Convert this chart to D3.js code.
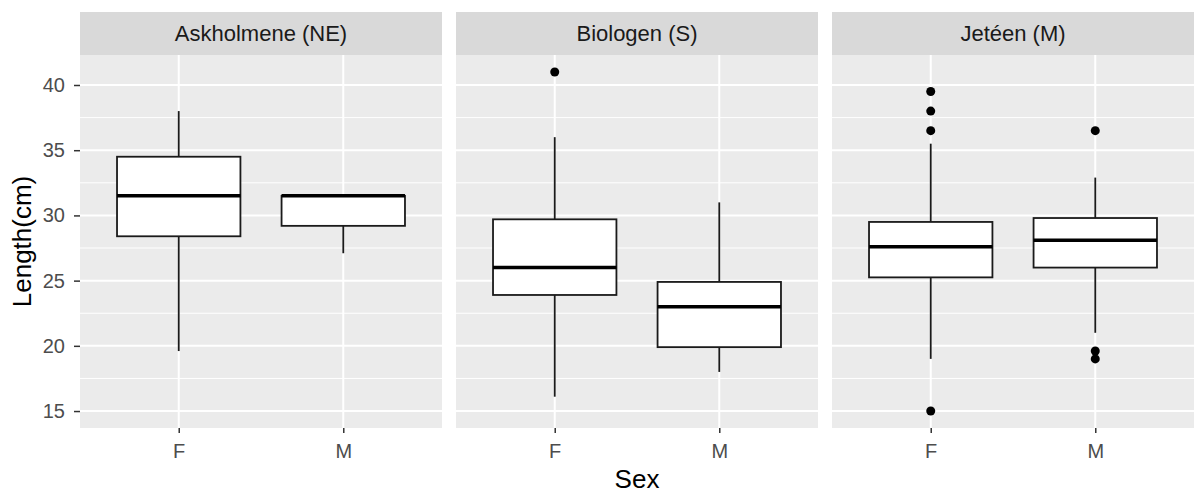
<!DOCTYPE html>
<html>
<head>
<meta charset="utf-8">
<script src="https://cdn.jsdelivr.net/npm/d3@7"></script>
<style>
  body { margin: 0; background: #fff; }
  svg { display: block; font-family: "Liberation Sans", Arial, sans-serif; }
</style>
</head>
<body>
<svg width="1198" height="495"></svg>
<script>
// facets and groups
const sites = ["Askholmene (NE)", "Biologen (S)", "Jetéen (M)"];
const sexes = ["F", "M"];

// box stats, one row per site, [F, M]
const whiskerLow  = [[19.6, 27.1], [16.1, 18.0], [19.0, 21.0]];
const q1          = [[28.4, 29.2], [23.9, 19.9], [25.25, 26.0]];
const median      = [[31.5, 31.5], [26.0, 23.0], [27.6, 28.1]];
const q3          = [[34.5, 31.5], [29.7, 24.9], [29.5, 29.8]];
const whiskerHigh = [[38.0, 31.5], [36.0, 31.0], [35.5, 32.9]];
const outliers    = [[[], []], [[41.0], []], [[39.5, 38.0, 36.5, 15.0], [36.5, 19.6, 19.0]]];

const yTicks = [15, 20, 25, 30, 35, 40];
const yMinor = [17.5, 22.5, 27.5, 32.5, 37.5];

let svg = d3.select("svg");
let margin = {top: 12, left: 80, bottom: 67, right: 5};
let stripH = 43, panelW = 362, gap = 14;
let plotTop = margin.top + stripH, plotBottom = 495 - margin.bottom;

let y = d3.scaleLinear().domain([13.7, 42.3]).range([plotBottom, plotTop]);
let x = d3.scalePoint().domain(sexes).range([0, panelW]).padding(0.6);
let boxW = x.step() * 0.75;

sites.forEach((site, i) => {
  let g = svg.append("g").attr("transform", "translate(" + (margin.left + i * (panelW + gap)) + ",0)");

  g.append("rect").attr("x", 0).attr("y", margin.top).attr("width", panelW).attr("height", stripH).attr("fill", "#d9d9d9");
  g.append("text").attr("x", panelW / 2).attr("y", margin.top + stripH / 2).attr("dy", "0.36em")
    .attr("text-anchor", "middle").attr("font-size", 22).attr("fill", "#1a1a1a").text(site);

  g.append("rect").attr("x", 0).attr("y", plotTop).attr("width", panelW).attr("height", plotBottom - plotTop).attr("fill", "#ebebeb");

  g.selectAll(".minor").data(yMinor).enter().append("line")
    .attr("x1", 0).attr("x2", panelW).attr("y1", d => y(d)).attr("y2", d => y(d))
    .attr("stroke", "#fff").attr("stroke-width", 1);
  g.selectAll(".major").data(yTicks).enter().append("line")
    .attr("x1", 0).attr("x2", panelW).attr("y1", d => y(d)).attr("y2", d => y(d))
    .attr("stroke", "#fff").attr("stroke-width", 2);
  g.selectAll(".vmajor").data(sexes).enter().append("line")
    .attr("x1", d => x(d)).attr("x2", d => x(d)).attr("y1", plotTop).attr("y2", plotBottom)
    .attr("stroke", "#fff").attr("stroke-width", 2);

  // x axis
  let xa = g.append("g").attr("transform", "translate(0," + plotBottom + ")")
    .call(d3.axisBottom(x).tickSize(5).tickPadding(11));
  xa.select(".domain").remove();
  xa.selectAll("line").attr("stroke", "#333").attr("stroke-width", 1.5);
  xa.selectAll("text").attr("font-size", 20).attr("fill", "#4d4d4d").attr("font-family", null);

  sexes.forEach((s, j) => {
    let cx = x(s);
    g.append("line").attr("x1", cx).attr("x2", cx).attr("y1", y(whiskerHigh[i][j])).attr("y2", y(q3[i][j]))
      .attr("stroke", "#1a1a1a").attr("stroke-width", 1.8);
    g.append("line").attr("x1", cx).attr("x2", cx).attr("y1", y(q1[i][j])).attr("y2", y(whiskerLow[i][j]))
      .attr("stroke", "#1a1a1a").attr("stroke-width", 1.8);
    g.append("rect").attr("x", cx - boxW / 2).attr("y", y(q3[i][j])).attr("width", boxW)
      .attr("height", y(q1[i][j]) - y(q3[i][j])).attr("fill", "#fff").attr("stroke", "#1a1a1a").attr("stroke-width", 1.8);
    g.append("line").attr("x1", cx - boxW / 2).attr("x2", cx + boxW / 2).attr("y1", y(median[i][j])).attr("y2", y(median[i][j]))
      .attr("stroke", "#000").attr("stroke-width", 3.5);
    g.selectAll(null).data(outliers[i][j]).enter().append("circle")
      .attr("cx", cx).attr("cy", d => y(d)).attr("r", 4.5).attr("fill", "#000");
  });
});

// y axis
let ya = svg.append("g").attr("transform", "translate(" + margin.left + ",0)")
  .call(d3.axisLeft(y).tickValues(yTicks).tickSize(6).tickPadding(9));
ya.select(".domain").remove();
ya.selectAll("line").attr("stroke", "#333").attr("stroke-width", 1.5);
ya.selectAll("text").attr("font-size", 20).attr("fill", "#4d4d4d").attr("font-family", null);

// axis titles
let panelsRight = margin.left + 3 * panelW + 2 * gap;
svg.append("text").attr("x", (margin.left + panelsRight) / 2).attr("y", 488)
  .attr("text-anchor", "middle").attr("font-size", 26).attr("fill", "#000").text("Sex");
svg.append("text").attr("transform", "translate(31," + (plotTop + plotBottom) / 2 + ") rotate(-90)")
  .attr("text-anchor", "middle").attr("font-size", 26).attr("fill", "#000").text("Length(cm)");
</script>
</body>
</html>
